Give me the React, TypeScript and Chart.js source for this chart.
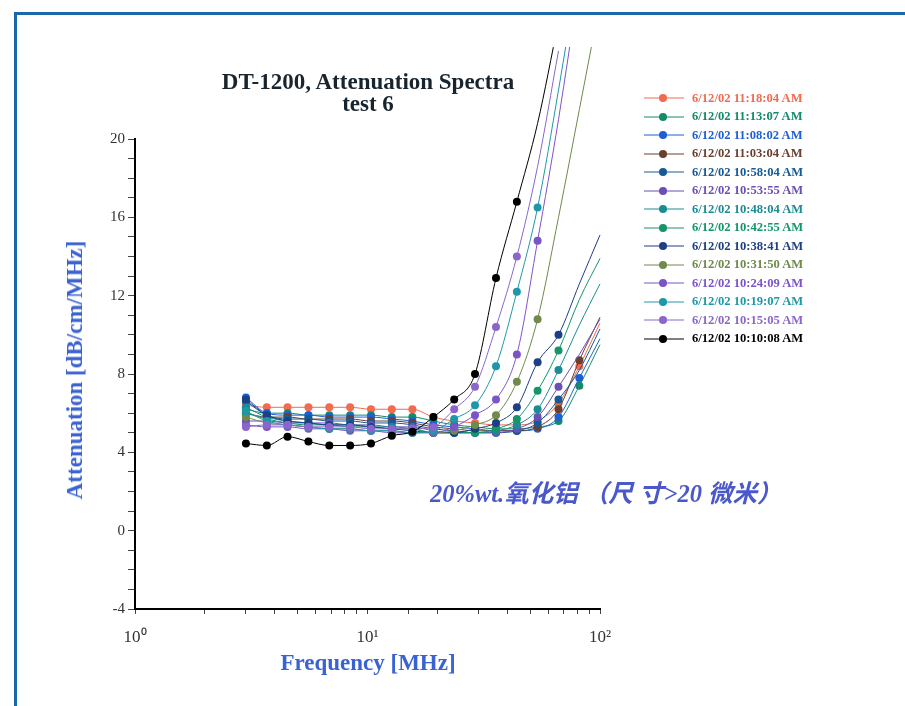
import React, { useEffect, useRef } from "react";
import { Chart, registerables } from "chart.js";

Chart.register(...registerables);

// Frequencies [MHz]
const frequencies = [3, 3.69, 4.53, 5.57, 6.85, 8.42, 10.35, 12.72, 15.6, 19.2, 23.6, 29.0, 35.7, 43.9, 53.9, 66.3, 81.5, 100];

const seriesLabels = [
  "6/12/02 11:18:04 AM",
  "6/12/02 11:13:07 AM",
  "6/12/02 11:08:02 AM",
  "6/12/02 11:03:04 AM",
  "6/12/02 10:58:04 AM",
  "6/12/02 10:53:55 AM",
  "6/12/02 10:48:04 AM",
  "6/12/02 10:42:55 AM",
  "6/12/02 10:38:41 AM",
  "6/12/02 10:31:50 AM",
  "6/12/02 10:24:09 AM",
  "6/12/02 10:19:07 AM",
  "6/12/02 10:15:05 AM",
  "6/12/02 10:10:08 AM",
];

const seriesColors = [
  "#f26a4f", "#138a68", "#1f5fd6", "#6b3f2e", "#155a96", "#6a4fb8", "#1b8c95",
  "#16946a", "#1c3f86", "#6f8a4a", "#7a55c8", "#1e98a8", "#8a66cc", "#000000",
];

// measured points (markers)
const measured01 = [6.4, 6.3, 6.3, 6.3, 6.3, 6.3, 6.2, 6.2, 6.2, 5.8, 5.6, 5.5, 5.4, 5.4, 5.6, 6.5, 8.4];
const measured02 = [6.2, 6.0, 6.0, 5.9, 5.9, 5.9, 5.9, 5.8, 5.8, 5.6, 5.4, 5.3, 5.2, 5.2, 5.3, 5.6, 7.4];
const measured03 = [6.8, 6.0, 5.9, 5.9, 5.8, 5.8, 5.8, 5.7, 5.6, 5.4, 5.3, 5.2, 5.1, 5.1, 5.2, 5.8, 7.8];
const measured04 = [6.0, 5.8, 5.8, 5.7, 5.7, 5.7, 5.6, 5.6, 5.5, 5.3, 5.2, 5.1, 5.1, 5.1, 5.3, 6.2, 8.7];
const measured05 = [6.6, 5.9, 5.7, 5.7, 5.6, 5.6, 5.5, 5.5, 5.4, 5.2, 5.1, 5.0, 5.0, 5.1, 5.5, 6.7];
const measured06 = [5.6, 5.6, 5.5, 5.5, 5.5, 5.4, 5.4, 5.3, 5.3, 5.1, 5.0, 5.0, 5.0, 5.2, 5.8, 7.35];
const measured07 = [6.3, 5.8, 5.6, 5.5, 5.4, 5.4, 5.3, 5.3, 5.2, 5.0, 5.0, 5.0, 5.1, 5.4, 6.2, 8.2];
const measured08 = [6.0, 5.7, 5.5, 5.4, 5.4, 5.3, 5.3, 5.2, 5.2, 5.0, 5.0, 5.0, 5.2, 5.7, 7.15, 9.2];
const measured09 = [6.7, 5.9, 5.6, 5.5, 5.4, 5.4, 5.3, 5.2, 5.1, 5.0, 5.0, 5.2, 5.5, 6.3, 8.6, 10.0];
const measured10 = [5.8, 5.5, 5.4, 5.3, 5.2, 5.2, 5.1, 5.1, 5.0, 5.0, 5.1, 5.4, 5.9, 7.6, 10.8];
const measured11 = [5.4, 5.3, 5.3, 5.2, 5.2, 5.1, 5.1, 5.0, 5.0, 5.0, 5.3, 5.9, 6.7, 9.0, 14.8];
const measured12 = [6.1, 5.6, 5.4, 5.3, 5.2, 5.2, 5.1, 5.1, 5.0, 5.1, 5.7, 6.4, 8.4, 12.2, 16.5];
const measured13 = [5.3, 5.4, 5.4, 5.3, 5.3, 5.3, 5.2, 5.2, 5.2, 5.3, 6.2, 7.35, 10.4, 14.0];
const measured14 = [4.45, 4.35, 4.8, 4.55, 4.35, 4.35, 4.45, 4.85, 5.05, 5.8, 6.7, 8.0, 12.9, 16.8];

// fitted curve continuation beyond the last marker
const tail01 = [10.6];
const tail02 = [9.5];
const tail03 = [9.8];
const tail04 = [10.9];
const tail05 = [8.2, 10.3];
const tail06 = [9.0, 10.8];
const tail07 = [10.5, 12.6];
const tail08 = [11.8, 13.9];
const tail09 = [12.6, 15.1];
const tail10 = [16.0, 21.5, 27.0];
const tail11 = [21.0, 28.0];
const tail12 = [22.5, 29.0];
const tail13 = [18.6, 24.5];
const tail14 = [20.8, 26.0];

const measuredList = [measured01, measured02, measured03, measured04, measured05, measured06, measured07, measured08, measured09, measured10, measured11, measured12, measured13, measured14];
const tailList = [tail01, tail02, tail03, tail04, tail05, tail06, tail07, tail08, tail09, tail10, tail11, tail12, tail13, tail14];

const yTicksMajor = [20, 16, 12, 8, 4, 0, -4];
const xTickLabels: Record<number, string> = { 1: "10\u2070", 10: "10\u00b9", 100: "10\u00b2" };

const SERIF = '"Liberation Serif", "Times New Roman", serif';

export default function App() {
  const canvasRef = useRef<HTMLCanvasElement | null>(null);

  useEffect(() => {
    document.body.style.margin = "0";
    const canvas = canvasRef.current;
    if (!canvas) return;

    const datasets = measuredList.map((m, i) => {
      const tail = tailList[i];
      const pts = m.map((y, k) => ({ x: frequencies[k], y }));
      const tpts = tail.map((y, k) => ({ x: frequencies[m.length + k], y }));
      const radii = [...m.map(() => 4), ...tail.map(() => 0)];
      return {
        label: seriesLabels[i],
        data: [...pts, ...tpts],
        borderColor: seriesColors[i],
        backgroundColor: seriesColors[i],
        borderWidth: 1,
        pointRadius: radii,
        pointHoverRadius: radii,
        pointBorderWidth: 0,
        cubicInterpolationMode: "monotone" as const,
        fill: false,
        clip: { left: 0, top: 92, right: 2, bottom: 0 },
      };
    });
    const ordered = [...datasets].reverse();

    const chart = new Chart(canvas, {
      type: "line",
      data: { datasets: ordered as any },
      options: {
        animation: false,
        responsive: false,
        maintainAspectRatio: false,
        layout: { padding: { left: 85, top: 139, right: 305, bottom: 57 } },
        plugins: {
          legend: { display: false },
          title: { display: false },
          tooltip: { enabled: false },
        },
        scales: {
          x: {
            type: "logarithmic",
            min: 1,
            max: 100,
            afterFit: (scale: any) => {
              scale.height = 40;
            },
            border: { display: true, color: "#000", width: 2 },
            grid: {
              display: true,
              drawOnChartArea: false,
              drawTicks: true,
              tickLength: 5,
              tickColor: "#444",
            },
            ticks: {
              autoSkip: false,
              maxRotation: 0,
              padding: 13,
              color: "#333",
              font: { family: SERIF, size: 17 },
              callback: (v: any) => xTickLabels[Number(v)] ?? "",
            },
          },
          y: {
            type: "linear",
            min: -4,
            max: 20,
            afterFit: (scale: any) => {
              scale.width = 50;
            },
            border: { display: true, color: "#000", width: 2 },
            grid: {
              display: true,
              drawOnChartArea: false,
              drawTicks: true,
              tickLength: 7,
              tickColor: "#444",
            },
            ticks: {
              stepSize: 1,
              autoSkip: false,
              padding: 3,
              color: "#333",
              font: { family: SERIF, size: 15 },
              callback: (v: any) => (yTicksMajor.includes(Number(v)) ? String(v) : ""),
            },
          },
        },
      },
    });
    return () => chart.destroy();
  }, []);

  return (
    <div style={{ position: "relative", width: 905, height: 706, overflow: "hidden", background: "#fff", fontFamily: SERIF }}>
      <div
        style={{
          position: "absolute",
          left: 14,
          top: 12,
          width: 905,
          height: 706,
          borderTop: "3px solid #1b68a8",
          borderLeft: "3px solid #1b68a8",
        }}
      />
      <canvas ref={canvasRef} width={905} height={706} style={{ position: "absolute", left: 0, top: 0 }} />
      <div
        style={{
          position: "absolute",
          left: 118,
          width: 500,
          top: 71,
          textAlign: "center",
          fontWeight: "bold",
          fontSize: 23,
          lineHeight: "22px",
          color: "#18242e",
        }}
      >
        <div>DT-1200, Attenuation Spectra</div>
        <div>test 6</div>
      </div>
      <div
        style={{
          position: "absolute",
          left: 75,
          top: 370,
          transform: "translate(-50%, -50%) rotate(-90deg)",
          whiteSpace: "nowrap",
          fontWeight: "bold",
          fontSize: 23,
          color: "#3a62d2",
        }}
      >
        Attenuation [dB/cm/MHz]
      </div>
      <div
        style={{
          position: "absolute",
          left: 118,
          width: 500,
          top: 650,
          textAlign: "center",
          fontWeight: "bold",
          fontSize: 23,
          color: "#3a62d2",
        }}
      >
        Frequency [MHz]
      </div>
      <div
        style={{
          position: "absolute",
          left: 430,
          top: 474,
          whiteSpace: "nowrap",
          fontWeight: "bold",
          fontStyle: "italic",
          fontSize: 24.5,
          color: "#4a58cc",
          fontFamily: '"Liberation Serif", "Noto Sans CJK SC", serif',
        }}
      >
        20%wt.氧化铝 （尺 寸&gt;20 微米）
      </div>
      <div style={{ position: "absolute", left: 644, top: 89 }}>
        {seriesLabels.map((lab, i) => (
          <div key={lab} style={{ display: "flex", alignItems: "center", height: 18.5 }}>
            <svg width={40} height={12} style={{ display: "block" }}>
              <line x1={0} y1={6} x2={40} y2={6} stroke={seriesColors[i]} strokeWidth={1} />
              <circle cx={19} cy={6} r={4} fill={seriesColors[i]} />
            </svg>
            <span
              style={{
                marginLeft: 8,
                fontSize: 12.6,
                fontWeight: "bold",
                color: seriesColors[i],
                whiteSpace: "nowrap",
              }}
            >
              {lab}
            </span>
          </div>
        ))}
      </div>
    </div>
  );
}
